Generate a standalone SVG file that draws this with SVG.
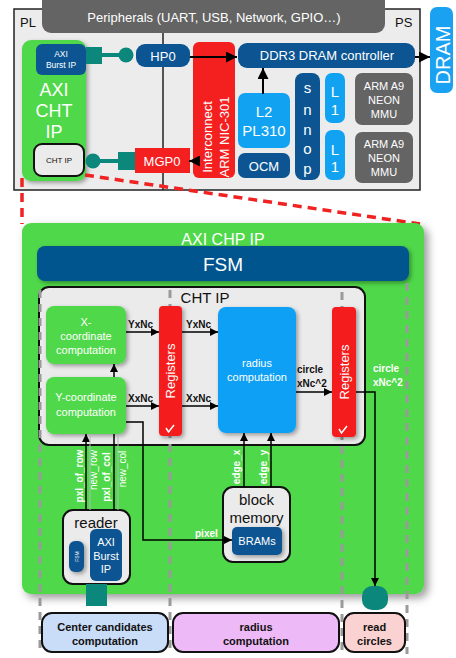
<svg xmlns="http://www.w3.org/2000/svg" width="456" height="658" viewBox="0 0 456 658">
<defs>
<filter id="sh" x="-20%" y="-20%" width="150%" height="150%"><feDropShadow dx="2" dy="2" stdDeviation="2" flood-color="#000" flood-opacity="0.35"/></filter>
<filter id="shb" x="-10%" y="-10%" width="125%" height="125%"><feDropShadow dx="4" dy="4" stdDeviation="4" flood-color="#000" flood-opacity="0.4"/></filter>
<marker id="ah" viewBox="0 0 10 10" refX="10" refY="5" markerWidth="8" markerHeight="8" markerUnits="userSpaceOnUse" orient="auto"><path d="M0,0 L10,5 L0,10 z" fill="#000"/></marker>
<marker id="ahL" viewBox="0 0 10 10" refX="10" refY="5" markerWidth="11" markerHeight="11" markerUnits="userSpaceOnUse" orient="auto"><path d="M0,0 L10,5 L0,10 z" fill="#000"/></marker>
</defs>
<style>
text{font-family:"Liberation Sans",Arial,sans-serif}
.w{fill:#fff}
.k{fill:#111}
.db{fill:#0c5592}
.lb{fill:#12a2f2}
.rd{fill:#f41f1f}
.gr{fill:#50d84a}
.gy{fill:#646464}
.tl{fill:#0c877c}
.lg{fill:#ebebeb;stroke:#111;stroke-width:2}
.ln{stroke:#000;stroke-width:2;fill:none}
.ln1{stroke:#000;stroke-width:1.5;fill:none}
.dash{stroke:#9a9a9a;stroke-width:3;stroke-dasharray:8 6;fill:none}
.red{stroke:#f02222;stroke-width:3.5;stroke-dasharray:9 6;fill:none}
.lbl{font-size:10px;font-weight:bold}
.clk{fill:none;stroke:#fff;stroke-width:1.5}
</style>

<!-- Top: PL / PS -->
<g id="plps">
<rect x="14" y="9" width="406" height="181" fill="#ececec" stroke="#222" stroke-width="1.5"/>
<line x1="163" y1="33" x2="163" y2="190" stroke="#222" stroke-width="1.5"/>
<text x="20" y="27" font-size="13" class="k">PL</text>
<text x="395" y="27" font-size="13" class="k">PS</text>
</g>
<g id="peripherals">
<rect x="42" y="-8" width="343" height="41" rx="9" class="gy"/>
<text x="214" y="22" font-size="13" class="w" text-anchor="middle">Peripherals (UART, USB, Network, GPIO…)</text>
</g>
<g id="dram">
<rect x="430" y="7" width="23" height="86" rx="7" fill="#1ba1f1"/>
<text transform="translate(450,55) rotate(-90)" font-size="20" class="w" text-anchor="middle">DRAM</text>
</g>
<g id="axi-cht-ip">
<rect x="22" y="40" width="64" height="141" rx="9" class="gr" filter="url(#sh)"/>
<text x="54" y="96" font-size="18" class="w" text-anchor="middle">AXI</text>
<text x="54" y="117" font-size="18" class="w" text-anchor="middle">CHT</text>
<text x="54" y="138" font-size="18" class="w" text-anchor="middle">IP</text>
</g>
<g id="axi-burst-top">
<rect x="36" y="44" width="50" height="31" rx="6" class="db"/>
<text x="61" y="57" font-size="8.5" class="w" text-anchor="middle">AXI</text>
<text x="61" y="68" font-size="8.5" class="w" text-anchor="middle">Burst IP</text>
</g>
<g id="cht-ip-top">
<rect x="34" y="144" width="50" height="32" rx="8" class="lg"/>
<text x="59" y="163" font-size="8" class="k" text-anchor="middle">CHT IP</text>
</g>
<g id="hp0">
<rect x="136" y="44" width="54" height="23" rx="9" class="db"/>
<text x="163" y="61" font-size="13" class="w" text-anchor="middle">HP0</text>
</g>
<g id="interconnect">
<rect x="193" y="42" width="42" height="136" rx="6" class="rd"/>
<text transform="translate(212,137) rotate(-90)" font-size="13" class="w" text-anchor="middle">Interconnect</text>
<text transform="translate(229,137) rotate(-90)" font-size="13" class="w" text-anchor="middle">ARM NIC-301</text>
</g>
<g id="mgp0">
<rect x="135" y="148" width="55" height="25" class="rd"/>
<text x="162" y="166" font-size="13" class="w" text-anchor="middle">MGP0</text>
</g>
<g id="ddr3">
<rect x="238" y="43" width="177" height="25" rx="9" class="db"/>
<text x="327" y="60" font-size="13" class="w" text-anchor="middle">DDR3 DRAM controller</text>
</g>
<g id="l2">
<rect x="238" y="93" width="52" height="55" rx="7" class="lb"/>
<text x="264" y="117" font-size="15" class="w" text-anchor="middle">L2</text>
<text x="264" y="136" font-size="15" class="w" text-anchor="middle">PL310</text>
</g>
<g id="ocm">
<rect x="238" y="153" width="52" height="25" rx="7" class="db"/>
<text x="264" y="171" font-size="13" class="w" text-anchor="middle">OCM</text>
</g>
<g id="snnop">
<rect x="295" y="73" width="25" height="107" rx="8" class="db"/>
<text x="307.5" y="93" font-size="15" class="w" text-anchor="middle">s</text>
<text x="307.5" y="115" font-size="15" class="w" text-anchor="middle">n</text>
<text x="307.5" y="135" font-size="15" class="w" text-anchor="middle">n</text>
<text x="307.5" y="154" font-size="15" class="w" text-anchor="middle">o</text>
<text x="307.5" y="174" font-size="15" class="w" text-anchor="middle">p</text>
</g>
<g id="l1a">
<rect x="325" y="73" width="20" height="50" rx="7" class="lb"/>
<text x="335" y="97" font-size="15" class="w" text-anchor="middle">L</text>
<text x="335" y="115" font-size="15" class="w" text-anchor="middle">1</text>
</g>
<g id="l1b">
<rect x="325" y="130" width="20" height="50" rx="7" class="lb"/>
<text x="335" y="155" font-size="15" class="w" text-anchor="middle">L</text>
<text x="335" y="172" font-size="15" class="w" text-anchor="middle">1</text>
</g>
<g id="arm1">
<rect x="355" y="73" width="58" height="52" rx="7" class="gy"/>
<text x="384" y="90" font-size="11" class="w" text-anchor="middle">ARM A9</text>
<text x="384" y="104" font-size="11" class="w" text-anchor="middle">NEON</text>
<text x="384" y="118" font-size="11" class="w" text-anchor="middle">MMU</text>
</g>
<g id="arm2">
<rect x="355" y="132" width="58" height="51" rx="7" class="gy"/>
<text x="384" y="148" font-size="11" class="w" text-anchor="middle">ARM A9</text>
<text x="384" y="162" font-size="11" class="w" text-anchor="middle">NEON</text>
<text x="384" y="176" font-size="11" class="w" text-anchor="middle">MMU</text>
</g>

<!-- top connectors -->
<g id="top-connectors">
<rect x="86" y="47" width="16" height="17" class="tl"/>
<line x1="102" y1="55" x2="120" y2="55" stroke="#0c877c" stroke-width="4"/>
<circle cx="126" cy="55" r="7.5" class="tl"/>
<circle cx="93" cy="161" r="7.5" class="tl"/>
<line x1="100" y1="161" x2="119" y2="161" stroke="#0c877c" stroke-width="4"/>
<rect x="118" y="152" width="17" height="18" class="tl"/>
<line x1="190" y1="57" x2="237" y2="57" class="ln" marker-end="url(#ahL)"/>
<line x1="415" y1="57" x2="430" y2="57" class="ln" marker-end="url(#ahL)"/>
<line x1="263" y1="94" x2="263" y2="68" class="ln" stroke-width="2.5" marker-end="url(#ahL)"/>
<line x1="193" y1="161" x2="189" y2="161" class="ln" marker-end="url(#ahL)"/>
<line x1="22" y1="178" x2="22" y2="224" class="red"/>
<line x1="85" y1="175" x2="420" y2="224" class="red"/>
</g>

<!-- Bottom -->
<g id="axi-chp-ip">
<rect x="22" y="223" width="402" height="371" rx="9" class="gr" filter="url(#shb)"/>
<text x="223" y="245" font-size="16" class="w" text-anchor="middle">AXI CHP IP</text>
</g>
<g id="fsm">
<rect x="37" y="246" width="372" height="35" rx="8" fill="#04548f" filter="url(#sh)"/>
<text x="223" y="271" font-size="19" class="w" text-anchor="middle">FSM</text>
</g>
<g id="cht-ip">
<rect x="39" y="287" width="326" height="158" rx="10" class="lg"/>
<text x="205" y="303" font-size="15" class="k" text-anchor="middle">CHT IP</text>
</g>
<g id="phase-dividers">
<line x1="40" y1="290" x2="40" y2="654" class="dash"/>
<line x1="170" y1="290" x2="170" y2="654" class="dash"/>
<line x1="342" y1="292" x2="342" y2="654" class="dash"/>
<line x1="407" y1="283" x2="407" y2="654" class="dash"/>
</g>
<g id="x-coord">
<rect x="46" y="306" width="80" height="58" rx="8" class="gr" filter="url(#sh)"/>
<text x="86" y="326" font-size="11" class="w" text-anchor="middle">X-</text>
<text x="86" y="340" font-size="11" class="w" text-anchor="middle">coordinate</text>
<text x="86" y="354" font-size="11" class="w" text-anchor="middle">computation</text>
</g>
<g id="y-coord">
<rect x="46" y="377" width="80" height="57" rx="8" class="gr" filter="url(#sh)"/>
<text x="86" y="401" font-size="11" class="w" text-anchor="middle">Y-coordinate</text>
<text x="86" y="416" font-size="11" class="w" text-anchor="middle">computation</text>
</g>
<g id="registers1">
<rect x="159" y="306" width="23" height="130" rx="4" class="rd" filter="url(#sh)"/>
<text transform="translate(175,371) rotate(-90)" font-size="13" class="w" text-anchor="middle">Registers</text>
<polyline points="166,428 168.5,432 174,425" class="clk"/>
</g>
<g id="radius-comp">
<rect x="218" y="307" width="78" height="126" rx="8" fill="#0aa0f5" filter="url(#sh)"/>
<text x="257" y="367" font-size="11" class="w" text-anchor="middle">radius</text>
<text x="257" y="381" font-size="11" class="w" text-anchor="middle">computation</text>
</g>
<g id="registers2">
<rect x="332" y="307" width="24" height="130" rx="4" class="rd" filter="url(#sh)"/>
<text transform="translate(349,372) rotate(-90)" font-size="13" class="w" text-anchor="middle">Registers</text>
<polyline points="339,429 341.5,433 347,426" class="clk"/>
</g>
<g id="reader">
<rect x="63" y="510" width="67" height="74" rx="10" class="lg"/>
<text x="96" y="528" font-size="15" class="k" text-anchor="middle">reader</text>
</g>
<g id="reader-fsm">
<rect x="69" y="541" width="15" height="31" rx="6" class="db" filter="url(#sh)"/>
<text transform="translate(78.5,556.5) rotate(-90)" font-size="5" class="w" text-anchor="middle">FSM</text>
</g>
<g id="reader-axi">
<rect x="90" y="529" width="32" height="52" rx="6" class="db"/>
<text x="106" y="546" font-size="11" class="w" text-anchor="middle">AXI</text>
<text x="106" y="560" font-size="11" class="w" text-anchor="middle">Burst</text>
<text x="106" y="573" font-size="11" class="w" text-anchor="middle">IP</text>
</g>
<g id="block-memory">
<rect x="223" y="487" width="67" height="75" rx="10" class="lg"/>
<text x="256.5" y="505" font-size="15" class="k" text-anchor="middle">block</text>
<text x="256.5" y="523" font-size="15" class="k" text-anchor="middle">memory</text>
</g>
<g id="brams">
<rect x="232" y="527" width="50" height="28" rx="5" class="db" filter="url(#sh)"/>
<text x="257" y="545" font-size="11" class="w" text-anchor="middle">BRAMs</text>
</g>
<g id="reader-port">
<rect x="86" y="584" width="21" height="22" class="tl"/>
</g>
<g id="read-port">
<rect x="362" y="586" width="26" height="24" rx="10" class="tl"/>
</g>
<g id="phase-center">
<rect x="42" y="613" width="126" height="39" rx="10" fill="#c9dcf8" stroke="#111" stroke-width="2"/>
<text x="105" y="631" font-size="11" font-weight="bold" class="k" text-anchor="middle">Center candidates</text>
<text x="105" y="645" font-size="11" font-weight="bold" class="k" text-anchor="middle">computation</text>
</g>
<g id="phase-radius">
<rect x="173" y="613" width="166" height="39" rx="10" fill="#eeb9f7" stroke="#111" stroke-width="2"/>
<text x="256" y="631" font-size="11" font-weight="bold" class="k" text-anchor="middle">radius</text>
<text x="256" y="645" font-size="11" font-weight="bold" class="k" text-anchor="middle">computation</text>
</g>
<g id="phase-read">
<rect x="344" y="613" width="61" height="39" rx="10" fill="#fbd2d2" stroke="#111" stroke-width="2"/>
<text x="374.5" y="631" font-size="11" font-weight="bold" class="k" text-anchor="middle">read</text>
<text x="374.5" y="645" font-size="11" font-weight="bold" class="k" text-anchor="middle">circles</text>
</g>

<g id="connectors">
<line x1="114" y1="377" x2="114" y2="364" class="ln1" marker-end="url(#ah)"/>
<line x1="126" y1="332" x2="159" y2="332" class="ln1" marker-end="url(#ah)"/>
<line x1="126" y1="406" x2="159" y2="406" class="ln1" marker-end="url(#ah)"/>
<line x1="182" y1="332" x2="218" y2="332" class="ln1" marker-end="url(#ah)"/>
<line x1="182" y1="406" x2="218" y2="406" class="ln1" marker-end="url(#ah)"/>
<line x1="296" y1="392" x2="332" y2="392" class="ln1" marker-end="url(#ah)"/>
<polyline points="356,392 375,392 375,586" class="ln1" marker-end="url(#ah)"/>
<polyline points="126,422 143,422 143,540 232,540" class="ln1" marker-end="url(#ah)"/>
<line x1="86" y1="510" x2="86" y2="434" class="ln1" marker-end="url(#ah)"/>
<line x1="114" y1="510" x2="114" y2="434" class="ln1"/>
<line x1="90" y1="510" x2="90" y2="434" stroke="#b8b8b8" stroke-width="1"/>
<line x1="118" y1="510" x2="118" y2="434" stroke="#b8b8b8" stroke-width="1"/>
<line x1="244" y1="487" x2="244" y2="433" class="ln1" marker-end="url(#ah)"/>
<line x1="271" y1="487" x2="271" y2="433" class="ln1" marker-end="url(#ah)"/>
<text x="128" y="328" class="lbl k">YxNc</text>
<text x="186" y="328" class="lbl k">YxNc</text>
<text x="128" y="402" class="lbl k">XxNc</text>
<text x="186" y="402" class="lbl k">XxNc</text>
<text x="297" y="373" class="lbl k">circle</text>
<text x="297" y="387" class="lbl k">xNc^2</text>
<text x="373" y="372" class="lbl w">circle</text>
<text x="373" y="386" class="lbl w">xNc^2</text>
<text x="195" y="537" class="lbl w">pixel</text>
<text transform="translate(83,476) rotate(-90)" class="lbl w" text-anchor="middle">pxl_of_row</text>
<text transform="translate(97,470) rotate(-90)" font-size="10" class="w" text-anchor="middle">new_row</text>
<text transform="translate(110,477) rotate(-90)" class="lbl w" text-anchor="middle">pxl_of_col</text>
<text transform="translate(126,469) rotate(-90)" font-size="10" class="w" text-anchor="middle">new_col</text>
<text transform="translate(240,467) rotate(-90)" class="lbl w" text-anchor="middle">edge_x</text>
<text transform="translate(267,467) rotate(-90)" class="lbl w" text-anchor="middle">edge_y</text>
</g>
</svg>
